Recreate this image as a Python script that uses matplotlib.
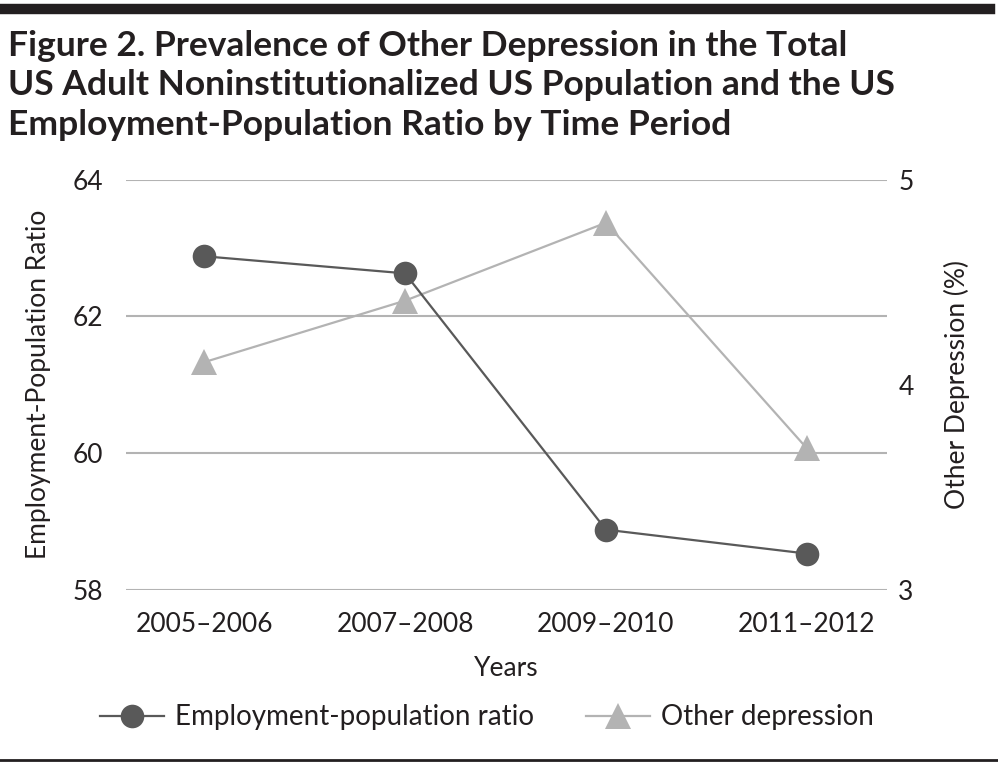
import numpy as np
import matplotlib.pyplot as plt
from matplotlib.lines import Line2D

# data
periods = ['2005\u20132006', '2007\u20132008', '2009\u20132010', '2011\u20132012']
emp_ratio = [62.88, 62.63, 58.88, 58.53]
other_dep = [4.11, 4.41, 4.79, 3.69]

emp_ticks = [58, 60, 62, 64]
dep_ticks = [3, 4, 5]

dark = '#595959'
light = '#b3b3b3'
ink = '#231f20'
body_font = ['Lato', 'DejaVu Sans']

plt.rcParams['font.family'] = body_font

fig = plt.figure(figsize=(9.98, 7.68), dpi=100)
ax = fig.add_axes([0.126, 0.232, 0.763, 0.534])
ax2 = ax.twinx()

x = np.arange(len(periods))

ax2.plot(x, other_dep, color=light, lw=1.6, marker='^', markersize=19,
         markeredgewidth=0, zorder=3)
ax.plot(x, emp_ratio, color=dark, lw=1.6, marker='o', markersize=17,
        markeredgewidth=0, zorder=3)

# keep the dark series on top
ax.set_zorder(ax2.get_zorder() + 1)
ax.patch.set_visible(False)

ax.set_xlim(-0.39, 3.4)
ax.set_ylim(58, 64)
ax2.set_ylim(3, 5)
ax.set_yticks(emp_ticks)
ax2.set_yticks(dep_ticks)
ax.set_xticks(x)
ax.set_xticklabels(periods)

ax.yaxis.grid(True, color=light, lw=1.5)
ax.set_axisbelow(True)

for a in (ax, ax2):
    for s in a.spines.values():
        s.set_visible(False)
    a.tick_params(length=0, labelsize=19, colors=ink)

ax.tick_params(axis='y', pad=16)
ax2.tick_params(axis='y', pad=8)
ax.tick_params(axis='x', pad=16)

ax.set_ylabel('Employment-Population Ratio', fontsize=19, color=ink, labelpad=16)
ax2.set_ylabel('Other Depression (%)', fontsize=19, color=ink, labelpad=22)
ax.set_xlabel('Years', fontsize=19, color=ink, labelpad=14)

handles = [
    Line2D([], [], color=dark, lw=1.6, marker='o', markersize=17, markeredgewidth=0),
    Line2D([], [], color=light, lw=1.6, marker='^', markersize=19, markeredgewidth=0),
]
fig.legend(handles, ['Employment-population ratio', 'Other depression'],
           loc='center', bbox_to_anchor=(0.488, 0.066), ncol=2, frameon=False,
           fontsize=20, handlelength=2.3, columnspacing=1.9, handletextpad=0.4,
           labelcolor=ink)

fig.text(0.008, 1 - 30 / 768,
         'Figure 2. Prevalence of Other Depression in the Total\n'
         'US Adult Noninstitutionalized US Population and the US\n'
         'Employment-Population Ratio by Time Period',
         ha='left', va='top', fontsize=25.5, fontweight='bold', color=ink,
         family=['Lato', 'DejaVu Sans'], linespacing=1.28)

# rules at top and bottom
fig.add_artist(Line2D([0.005, 0.992], [1 - 9 / 768, 1 - 9 / 768], color=ink, lw=7.5))
fig.add_artist(Line2D([0.0, 1.0], [1 - 760 / 768, 1 - 760 / 768], color=ink, lw=2))

fig.savefig('out.png', dpi=100)
